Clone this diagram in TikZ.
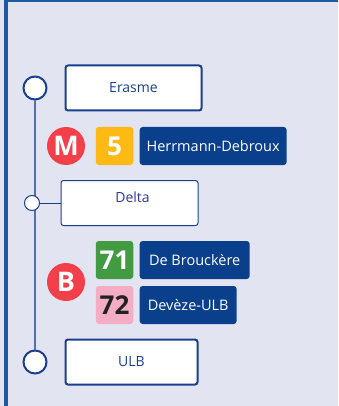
\documentclass[tikz,border=0pt]{standalone}
\usepackage{fontspec}
\setmainfont{Open Sans}
\usepackage{tikz}
\usetikzlibrary{positioning}
\definecolor{pagebg}{HTML}{E2E4F2}
\definecolor{framecol}{HTML}{1F5AA0}
\definecolor{linecol}{HTML}{1A3F8F}
\definecolor{trunkcol}{HTML}{5570B0}
\definecolor{destcol}{HTML}{0A3F8C}
\definecolor{deltacol}{HTML}{2F3A9A}
\definecolor{modecol}{HTML}{F33F4A}
\definecolor{yellowcol}{HTML}{FFB915}
\definecolor{greencol}{HTML}{429A41}
\definecolor{pinkcol}{HTML}{F5ADC6}
\definecolor{blackcol}{HTML}{222222}
\tikzstyle{stopbox} = [draw=linecol, line width=2pt, fill=white, rounded corners=2.5pt, minimum height=45pt, inner sep=0pt, text=linecol, font=\fontsize{14}{16}\selectfont]
\tikzstyle{stopdot} = [circle, draw=linecol, line width=2pt, fill=white, minimum size=23pt, inner sep=0pt]
\tikzstyle{mode} = [circle, fill=modecol, minimum size=38pt, inner sep=0pt, text=white, font=\fontsize{27}{28}\selectfont\bfseries]
\tikzstyle{line} = [rounded corners=3pt, minimum width=37.5pt, minimum height=38pt, inner sep=0pt, font=\fontsize{26}{28}\selectfont\bfseries]
\tikzstyle{dest} = [fill=destcol, rounded corners=3pt, minimum height=38pt, inner sep=0pt, text=white, font=\fontsize{14.5}{16}\selectfont]

\begin{document}
\begin{tikzpicture}[x=1pt,y=-1pt]
  \useasboundingbox (0,0) rectangle (338,406);
  \fill[pagebg] (0,0) rectangle (338,406);
  \fill[framecol] (4,0) rectangle (338,2.5);
  \fill[framecol] (4,0) rectangle (8,406);
  \node[stopbox, minimum width=136pt] (erasme) at (133.5,88) {Erasme};
  \node[stopbox, minimum width=132pt] (ulb) at (131.5,362) {ULB};
  \node[stopbox, minimum width=137pt, line width=1pt, text=deltacol, text depth=11pt] (delta) at (129.5,203) {\hspace*{6pt}Delta};
  \node[stopdot] (erasmestop) at (35,88) {};
  \node[stopdot] (ulbstop) at (35,362) {};
  \draw[trunkcol, line width=1.2pt] (erasmestop) -- (ulbstop);
  \node[stopdot, minimum size=15pt, line width=1pt] (deltastop) at (32,203) {};
  \draw[linecol, line width=1pt] (deltastop) -- (delta);
  % metro
  \node[mode] (metro) at (66,146) {M};
  \node[line, fill=yellowcol, text=white] (five) at (114.5,146) {5};
  \node[dest, minimum width=147pt, right=6pt of five] (herrmann) {Herrmann-Debroux};
  % bus
  \node[mode] (bus) at (66,282) {B};
  \node[line, fill=greencol, text=white] (l71) at (114.5,260) {71};
  \node[dest, minimum width=110pt, right=6pt of l71] (brouckere) {De Brouckère};
  \node[line, fill=pinkcol, text=blackcol] (l72) at (114.5,305) {72};
  \node[dest, minimum width=97pt, right=6pt of l72] (deveze) {Devèze-ULB};
\end{tikzpicture}
\end{document}
